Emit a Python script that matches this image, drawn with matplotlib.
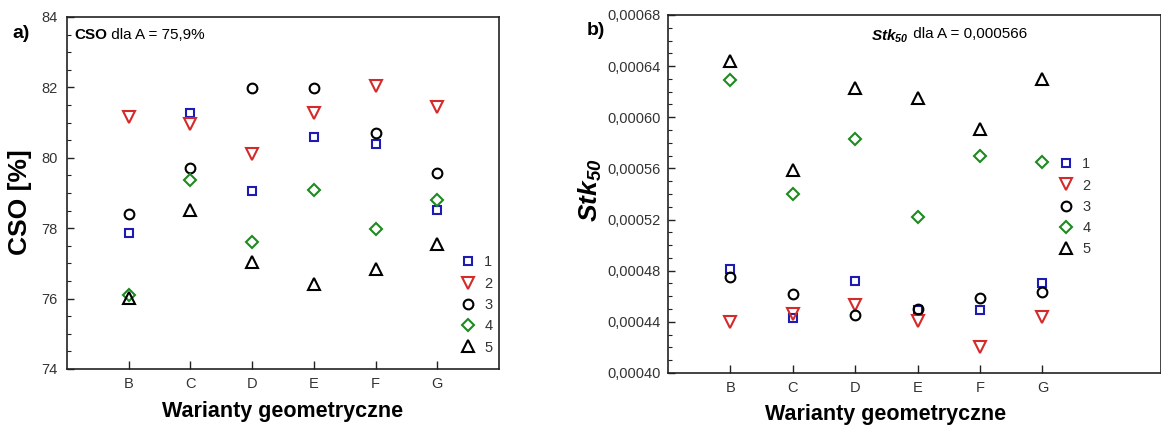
import numpy as np
import matplotlib.pyplot as plt
from matplotlib.ticker import MultipleLocator

plt.rcParams['font.family'] = ['Liberation Sans', 'DejaVu Sans']
plt.rcParams['mathtext.fontset'] = 'custom'
plt.rcParams['mathtext.rm'] = 'Liberation Sans'
plt.rcParams['mathtext.it'] = 'Liberation Sans:italic'
plt.rcParams['mathtext.bf'] = 'Liberation Sans:bold'
plt.rcParams['mathtext.bfit'] = 'Liberation Sans:italic:bold'

# Geometric variants
variants = ['B', 'C', 'D', 'E', 'F', 'G']
series_names = ['1', '2', '3', '4', '5']

# a) CSO [%]
cso_1 = [77.85, 81.28, 79.06, 80.58, 80.38, 78.51]
cso_2 = [81.16, 80.95, 80.12, 81.26, 82.03, 81.45]
cso_3 = [78.39, 79.70, 81.97, 81.97, 80.71, 79.58]
cso_4 = [76.11, 79.38, 77.62, 79.08, 77.99, 78.80]
cso_5 = [76.02, 78.53, 77.03, 76.42, 76.83, 77.54]

# b) Stk50
stk_1 = [0.000481, 0.000443, 0.000472, 0.000449, 0.000449, 0.000470]
stk_2 = [0.000440, 0.000446, 0.000453, 0.000441, 0.000420, 0.000444]
stk_3 = [0.000475, 0.000462, 0.000445, 0.000450, 0.000459, 0.000463]
stk_4 = [0.000629, 0.000540, 0.000583, 0.000522, 0.000570, 0.000565]
stk_5 = [0.000644, 0.000559, 0.000623, 0.000615, 0.000591, 0.000630]

cso_ticks = [74, 76, 78, 80, 82, 84]
stk_ticks = [0.00040, 0.00044, 0.00048, 0.00052, 0.00056, 0.00060, 0.00064, 0.00068]

styles = [('s', '#1c1cb4'), ('v', '#d42a2a'), ('o', '#000000'),
          ('D', '#1f8a1f'), ('^', '#000000')]
sizes = [6, 8, 7, 6, 8]

fig = plt.figure(figsize=(11.61, 4.30), dpi=100)
ax1 = fig.add_axes([0.0577, 0.1419, 0.3721, 0.8186])
ax2 = fig.add_axes([0.5754, 0.1326, 0.4246, 0.8326])

x = np.arange(1, len(variants) + 1)


def draw(ax, data, xmax):
    for vals, name, (m, c), ms in zip(data, series_names, styles, sizes):
        ax.plot(x, vals, linestyle='none', marker=m, markersize=ms,
                markerfacecolor='none', markeredgecolor=c,
                markeredgewidth=1.5, label=name)
    ax.set_xlim(0, xmax)
    ax.set_xticks(x)
    ax.set_xticklabels(variants)
    ax.tick_params(axis='both', which='both', direction='in', colors='#222222',
                   labelcolor='#333333', labelsize=10.5)
    ax.tick_params(axis='x', length=6, width=1, pad=6)
    ax.tick_params(axis='y', which='major', length=5, width=1)
    ax.tick_params(axis='y', which='minor', length=3, width=0.8)
    for s in ax.spines.values():
        s.set_color('#222222')
        s.set_linewidth(1.2)


# a)
draw(ax1, [cso_1, cso_2, cso_3, cso_4, cso_5], 7)
ax1.set_ylim(74, 84)
ax1.set_yticks(cso_ticks)
ax1.yaxis.set_minor_locator(MultipleLocator(0.5))
ax1.tick_params(axis='y', pad=7)
ax1.set_ylabel('CSO [%]', fontsize=19, fontweight='bold', va='center')
ax1.yaxis.set_label_coords(-0.109, 0.474)
ax1.set_xlabel('Warianty geometryczne', fontsize=15.5, fontweight='bold', va='center')
ax1.xaxis.set_label_coords(0.5, -0.122)
t = ax1.text(0.016, 0.949, 'CSO', transform=ax1.transAxes, fontsize=11,
             fontweight='bold', va='center', ha='left')
ax1.annotate(' dla A = 75,9%', xy=(1, 0.5), xycoords=t, fontsize=11,
             va='center', ha='left')
ax1.legend(loc='center left', bbox_to_anchor=(0.912, 0.182), frameon=False,
           fontsize=10.5, handlelength=1, handletextpad=0.6, borderpad=0,
           labelspacing=0.5, borderaxespad=0, labelcolor='#333333')

# b)
draw(ax2, [stk_1, stk_2, stk_3, stk_4, stk_5], 7.9)
ax2.set_ylim(0.00040, 0.00068)
ax2.set_yticks(stk_ticks)
ax2.set_yticklabels([('%.5f' % v).replace('.', ',') for v in stk_ticks])
ax2.yaxis.set_minor_locator(MultipleLocator(0.00001))
ax2.tick_params(axis='y', pad=5)
ax2.set_ylabel(r'$\mathbfit{Stk}_{\mathbfit{50}}$', fontsize=19, va='center')
ax2.yaxis.set_label_coords(-0.158, 0.511)
ax2.set_xlabel('Warianty geometryczne', fontsize=15.5, fontweight='bold', va='center')
ax2.xaxis.set_label_coords(0.442, -0.117)
t2 = ax2.text(0.412, 0.941, r'$\mathbfit{Stk}_{\mathbfit{50}}$', transform=ax2.transAxes,
              fontsize=11, va='center', ha='left')
ax2.annotate(' dla A = 0,000566', xy=(1, 0.62), xycoords=t2, fontsize=11,
             va='center', ha='left')
ax2.legend(loc='center left', bbox_to_anchor=(0.793, 0.464), frameon=False,
           fontsize=10.5, handlelength=1, handletextpad=0.6, borderpad=0,
           labelspacing=0.5, borderaxespad=0, labelcolor='#333333')

fig.text(0.011, 0.923, 'a)', fontsize=14, fontweight='bold', va='center', ha='left')
fig.text(0.5056, 0.928, 'b)', fontsize=14, fontweight='bold', va='center', ha='left')

fig.savefig('out.png', dpi=100)
